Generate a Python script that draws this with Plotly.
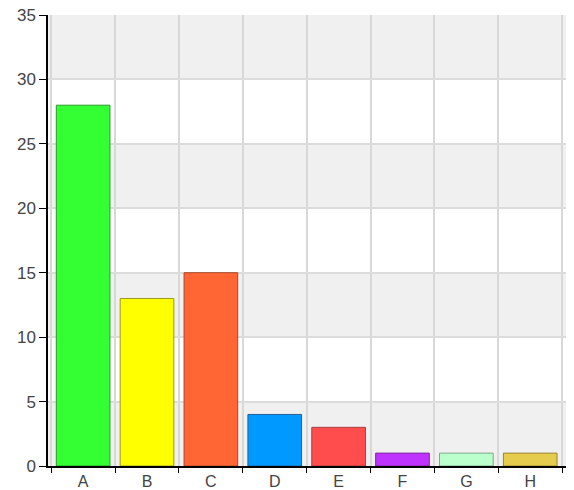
import plotly.graph_objects as go

categories = ["A", "B", "C", "D", "E", "F", "G", "H"]
values = [28, 13, 15, 4, 3, 1, 1, 1]
fill_colors = ["#33ff33", "#ffff00", "#ff6633", "#0099ff", "#ff4d4d", "#bf33ff", "#bbffcc", "#e6cc4d"]
line_colors = ["#2a9a2a", "#9a9a20", "#a8482a", "#20609a", "#a84040", "#7a2aa0", "#80a888", "#98863a"]
y_ticks = [0, 5, 10, 15, 20, 25, 30, 35]

fig = go.Figure()
fig.add_trace(go.Bar(
    x=categories, y=values,
    marker=dict(color=fill_colors, line=dict(color=line_colors, width=1)),
    width=0.84, hoverinfo="skip",
))

shapes = []
for lo in range(0, 35, 10):
    shapes.append(dict(type="rect", xref="paper", yref="y", x0=0, x1=1, y0=lo, y1=lo + 5,
                       fillcolor="#f0f0f0", line=dict(width=0), layer="below"))

fig.update_layout(
    width=574, height=490,
    margin=dict(l=48, r=8, t=15, b=24, pad=0),
    paper_bgcolor="white", plot_bgcolor="white",
    showlegend=False,
    shapes=shapes,
    font=dict(family="Liberation Sans, Arial, sans-serif", size=17, color="#444"),
    xaxis=dict(
        type="category", tickson="boundaries", showgrid=True, gridcolor="#d8d8d8", gridwidth=1.5,
        ticks="outside", ticklen=5, tickcolor="black", showline=True, linecolor="black", linewidth=1.5,
        range=[-0.55, 7.56], layer="below traces", automargin=False, tickfont=dict(size=16),
    ),
    yaxis=dict(
        range=[0, 35], tickvals=y_ticks, showgrid=True, gridcolor="#dcdcdc", gridwidth=1.5,
        ticks="outside", ticklen=7, tickcolor="black", showline=True, linecolor="black", linewidth=1.5,
        zeroline=False, layer="below traces", automargin=False,
    ),
)

fig.write_html("out.html", config={"displayModeBar": False},
               post_script="document.body.style.margin='0';document.body.style.padding='0';")
